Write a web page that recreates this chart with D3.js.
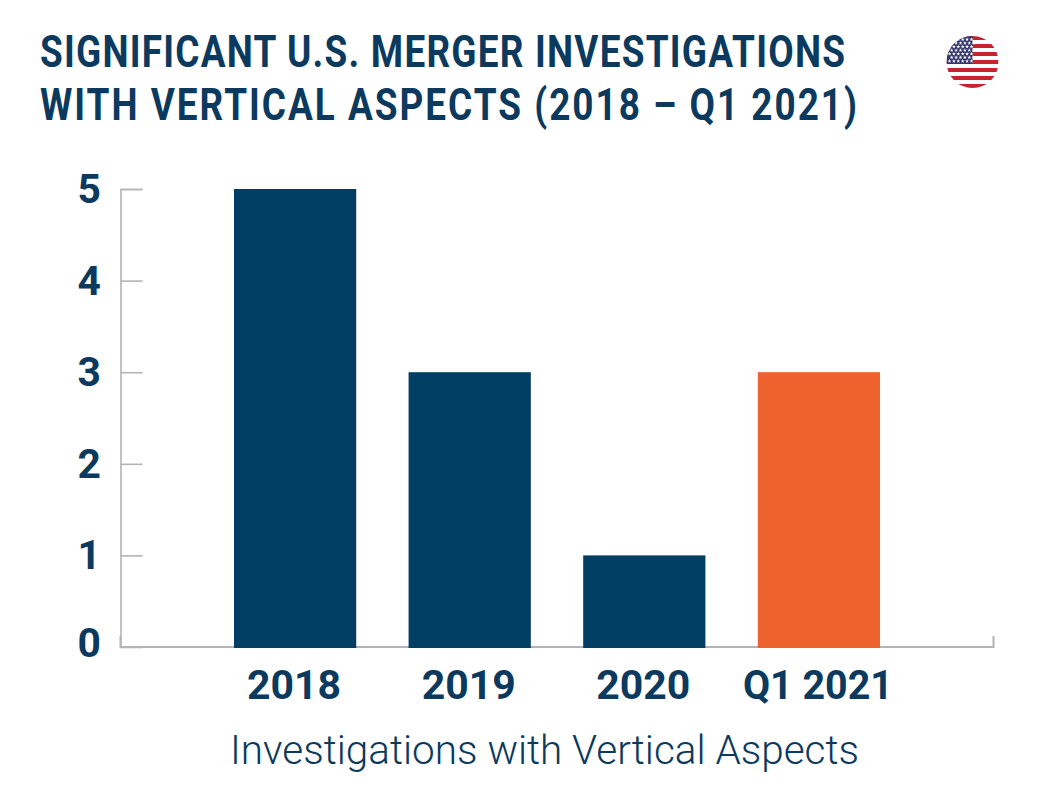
<!DOCTYPE html>
<html>
<head>
<meta charset="utf-8">
<script src="https://cdn.jsdelivr.net/npm/d3@7"></script>
<style>
  html, body { margin: 0; padding: 0; background: #fff; }
  text { font-family: Roboto, sans-serif; fill: #0b3a5e; }
</style>
</head>
<body>
<div id="chart"></div>
<script>
var titleLines = ["SIGNIFICANT U.S. MERGER INVESTIGATIONS", "WITH VERTICAL ASPECTS (2018 – Q1 2021)"];
var categories = ["2018", "2019", "2020", "Q1 2021"];
var values = [5, 3, 1, 3];
var barColors = ["#003e63", "#003e63", "#003e63", "#ee622e"];
var yTicks = [0, 1, 2, 3, 4, 5];
var axisTitle = "Investigations with Vertical Aspects";

var W = 1042, H = 810;
var svg = d3.select("#chart").append("svg").attr("width", W).attr("height", H).style("display", "block");

// titles: glyphs squeezed, then tracked out, to get near the original condensed face
var titleWidths = [805, 817];
var squeeze = 0.84;
titleLines.forEach(function(t, i) {
  svg.append("text")
    .attr("transform", "translate(40," + (67 + i * 53) + ") scale(" + squeeze + ",1)")
    .attr("font-size", 44).attr("font-weight", 700)
    .attr("textLength", titleWidths[i] / squeeze).attr("lengthAdjust", "spacing")
    .text(t);
});

var y = d3.scaleLinear().domain([0, 5]).range([647, 189]);
var x = d3.scaleBand().domain(categories).range([207.8, 906.2]).paddingInner(0.3).paddingOuter(0.15);
var halfStep = x.step() / 2;
var x0 = 207.8 - halfStep, x1 = 906.2 + halfStep;

// baseline with end ticks
svg.append("path")
  .attr("d", "M" + x0 + "," + (y(0) - 11) + "V" + y(0) + "H" + x1 + "V" + (y(0) - 11))
  .attr("fill", "none").attr("stroke", "#b3b4b8").attr("stroke-width", 2);

// y axis
var yAxis = d3.axisRight(y).tickValues(yTicks).tickSize(22).tickFormat("");
var gy = svg.append("g").attr("transform", "translate(" + x0 + ",0)").call(yAxis);
gy.select(".domain").attr("stroke", "#b3b4b8").attr("stroke-width", 1.6);
gy.selectAll(".tick line").attr("stroke", "#b3b4b8").attr("stroke-width", 1.6)
  .filter(function(d) { return d === 0; }).remove();

// bars
svg.selectAll("rect.bar").data(values).enter().append("rect")
  .attr("class", "bar")
  .attr("x", function(d, i) { return x(categories[i]); })
  .attr("y", function(d) { return y(d); })
  .attr("width", x.bandwidth())
  .attr("height", function(d) { return y(0) - y(d) + 1; })
  .attr("fill", function(d, i) { return barColors[i]; });

// y labels sit left of the axis, the 0 nudged up a little as in the original
svg.selectAll("text.ylab").data(yTicks).enter().append("text")
  .attr("class", "ylab")
  .attr("transform", function(d) { return "translate(101," + (y(d) + (d === 0 ? -4 : 0)) + ") scale(1.02,1)"; })
  .attr("dy", "0.35em").attr("text-anchor", "end")
  .attr("font-size", 40).attr("font-weight", 700)
  .text(function(d) { return d; });

// category labels
var labelWidths = [94, 94, 94, 150];
svg.selectAll("text.cat").data(categories).enter().append("text")
  .attr("class", "cat")
  .attr("x", function(d) { return x(d) + x.bandwidth() / 2 - 1; })
  .attr("y", 699).attr("text-anchor", "middle")
  .attr("font-size", 40).attr("font-weight", 700)
  .attr("textLength", function(d, i) { return labelWidths[i]; })
  .attr("lengthAdjust", "spacingAndGlyphs")
  .text(function(d) { return d; });

svg.append("text")
  .attr("x", 230).attr("y", 764)
  .attr("font-size", 41).attr("font-weight", 300)
  .attr("textLength", 629).attr("lengthAdjust", "spacingAndGlyphs")
  .text(axisTitle);

// flag badge
var flagR = 26, flagX = 972.5, flagY = 62;
var flag = svg.append("g").attr("transform", "translate(" + flagX + "," + flagY + ")");
svg.append("clipPath").attr("id", "flagClip").append("circle").attr("r", flagR);
var fg = flag.append("g").attr("clip-path", "url(#flagClip)");
var stripeH = 2 * flagR / 13;
fg.selectAll("rect.stripe").data(d3.range(13)).enter().append("rect")
  .attr("class", "stripe")
  .attr("x", -flagR).attr("y", function(d) { return -flagR + d * stripeH; })
  .attr("width", 2 * flagR).attr("height", stripeH + 0.1)
  .attr("fill", function(d) { return d % 2 ? "#ffffff" : "#c3242d"; });
fg.append("rect").attr("x", -flagR).attr("y", -flagR).attr("width", flagR).attr("height", 7 * stripeH).attr("fill", "#34346e");
var star = d3.symbol().type(d3.symbolStar).size(5);
for (var r = 0; r < 7; r++) {
  for (var c = 0; c < 6; c++) {
    fg.append("path").attr("d", star).attr("fill", "#fff")
      .attr("transform", "translate(" + (-flagR + 3 + c * 4.4 + (r % 2 ? 2.2 : 0)) + "," + (-flagR + 3.5 + r * 3.6) + ")");
  }
}
</script>
</body>
</html>
